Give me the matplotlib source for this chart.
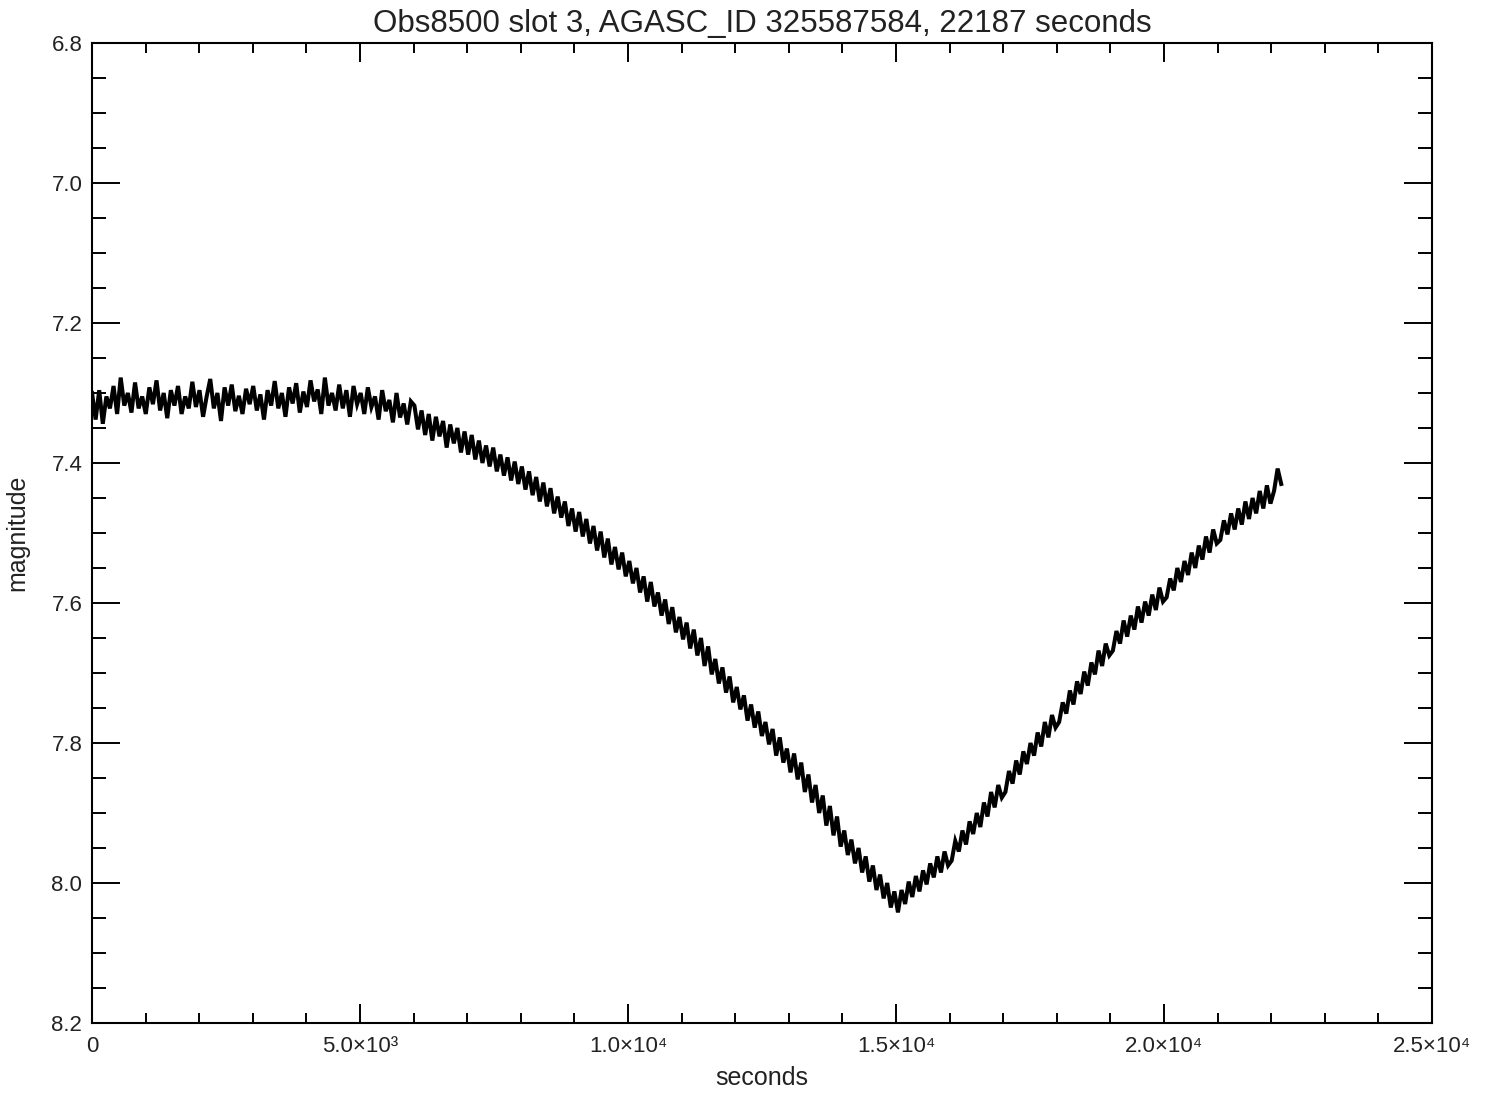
import numpy as np
import matplotlib
matplotlib.use("Agg")
import matplotlib.pyplot as plt

plt.rcParams['font.family'] = ['Liberation Sans', 'DejaVu Sans']

title = "Obs8500 slot 3, AGASC_ID 325587584, 22187 seconds"
duration = 22187.0

# ACA magnitude samples across the observation (evenly spaced in time)
magnitude = [
    7.300, 7.338, 7.296, 7.344, 7.305, 7.322, 7.290, 7.330, 7.278, 7.318, 7.300, 7.328, 7.285, 7.322, 7.305,
    7.330, 7.292, 7.316, 7.282, 7.325, 7.300, 7.336, 7.296, 7.318, 7.290, 7.330, 7.305, 7.322, 7.284, 7.320,
    7.296, 7.334, 7.305, 7.280, 7.322, 7.300, 7.340, 7.292, 7.318, 7.288, 7.326, 7.304, 7.330, 7.294, 7.316,
    7.290, 7.325, 7.302, 7.338, 7.296, 7.318, 7.283, 7.322, 7.300, 7.334, 7.292, 7.315, 7.286, 7.328, 7.298,
    7.320, 7.282, 7.312, 7.295, 7.330, 7.278, 7.318, 7.300, 7.325, 7.288, 7.322, 7.296, 7.334, 7.290, 7.316,
    7.300, 7.330, 7.292, 7.320, 7.305, 7.338, 7.296, 7.326, 7.310, 7.342, 7.300, 7.335, 7.315, 7.345, 7.312,
    7.318, 7.352, 7.325, 7.360, 7.330, 7.368, 7.334, 7.362, 7.340, 7.378, 7.345, 7.372, 7.350, 7.385, 7.355,
    7.388, 7.360, 7.395, 7.368, 7.400, 7.375, 7.405, 7.378, 7.412, 7.388, 7.418, 7.392, 7.425, 7.398, 7.430,
    7.405, 7.438, 7.412, 7.446, 7.420, 7.455, 7.428, 7.462, 7.436, 7.472, 7.448, 7.478, 7.455, 7.490, 7.465,
    7.498, 7.470, 7.505, 7.480, 7.515, 7.490, 7.525, 7.498, 7.535, 7.508, 7.545, 7.520, 7.552, 7.528, 7.562,
    7.540, 7.572, 7.550, 7.585, 7.562, 7.598, 7.570, 7.605, 7.585, 7.618, 7.595, 7.630, 7.606, 7.642, 7.620,
    7.652, 7.628, 7.665, 7.638, 7.675, 7.650, 7.690, 7.662, 7.702, 7.680, 7.715, 7.692, 7.728, 7.705, 7.742,
    7.720, 7.752, 7.732, 7.768, 7.745, 7.778, 7.755, 7.790, 7.770, 7.802, 7.780, 7.818, 7.792, 7.828, 7.808,
    7.842, 7.815, 7.852, 7.828, 7.870, 7.845, 7.885, 7.860, 7.900, 7.875, 7.918, 7.890, 7.932, 7.905, 7.948,
    7.925, 7.960, 7.938, 7.972, 7.950, 7.985, 7.962, 7.998, 7.975, 8.010, 7.988, 8.022, 8.000, 8.035, 8.012,
    8.042, 8.010, 8.030, 7.998, 8.020, 7.990, 8.012, 7.982, 8.002, 7.972, 7.992, 7.962, 7.985, 7.955, 7.975,
    7.968, 7.940, 7.955, 7.925, 7.945, 7.912, 7.930, 7.900, 7.920, 7.885, 7.905, 7.870, 7.892, 7.860, 7.878,
    7.870, 7.840, 7.858, 7.825, 7.845, 7.812, 7.830, 7.800, 7.818, 7.785, 7.805, 7.770, 7.792, 7.760, 7.778,
    7.770, 7.742, 7.758, 7.725, 7.745, 7.712, 7.730, 7.698, 7.718, 7.685, 7.702, 7.668, 7.690, 7.658, 7.675,
    7.668, 7.640, 7.658, 7.625, 7.648, 7.618, 7.638, 7.605, 7.628, 7.598, 7.618, 7.588, 7.610, 7.578, 7.598,
    7.592, 7.565, 7.582, 7.550, 7.570, 7.540, 7.560, 7.528, 7.550, 7.518, 7.538, 7.505, 7.528, 7.495, 7.515,
    7.510, 7.482, 7.502, 7.472, 7.495, 7.465, 7.488, 7.455, 7.480, 7.450, 7.472, 7.440, 7.465, 7.432, 7.458,
    7.440, 7.408, 7.430,
]
seconds = np.linspace(0.0, duration, len(magnitude))

x_ticks = [0, 5000, 10000, 15000, 20000, 25000]
x_tick_labels = ["0", "5.0×10³", "1.0×10⁴", "1.5×10⁴", "2.0×10⁴", "2.5×10⁴"]
y_ticks = [6.8, 7.0, 7.2, 7.4, 7.6, 7.8, 8.0, 8.2]
y_tick_labels = ["6.8", "7.0", "7.2", "7.4", "7.6", "7.8", "8.0", "8.2"]

fig = plt.figure(figsize=(14.87, 10.96), dpi=100)
ax = fig.add_axes([0.0619, 0.0666, 0.9011, 0.8942])

ax.plot(seconds, magnitude, color="black", linewidth=2.9, solid_joinstyle="miter")

ax.set_xlim(0, 25000)
ax.set_ylim(8.2, 6.8)

ax.set_xticks(x_ticks)
ax.set_xticklabels(x_tick_labels)
ax.set_xticks(np.arange(0, 25001, 1000), minor=True)
ax.set_yticks(y_ticks)
ax.set_yticklabels(y_tick_labels)
ax.set_yticks(np.arange(6.8, 8.2001, 0.05), minor=True)

ax.tick_params(axis="both", which="both", direction="in", top=True, right=True,
               width=1.4, labelsize=16, labelcolor="#222222")
ax.tick_params(axis="x", which="major", length=14, pad=9)
ax.tick_params(axis="x", which="minor", length=7)
ax.tick_params(axis="y", which="major", length=20, pad=7)
ax.tick_params(axis="y", which="minor", length=10)

for spine in ax.spines.values():
    spine.set_linewidth(1.5)

ax.set_title(title, fontsize=22.5, pad=8, color="#222222")
ax.set_xlabel("seconds", fontsize=18, color="#222222")
ax.set_ylabel("magnitude", fontsize=18, color="#222222")
ax.xaxis.set_label_coords(0.5, -0.044)
ax.yaxis.set_label_coords(-0.047, 0.5)

fig.savefig("out.png", dpi=100, facecolor="white")
